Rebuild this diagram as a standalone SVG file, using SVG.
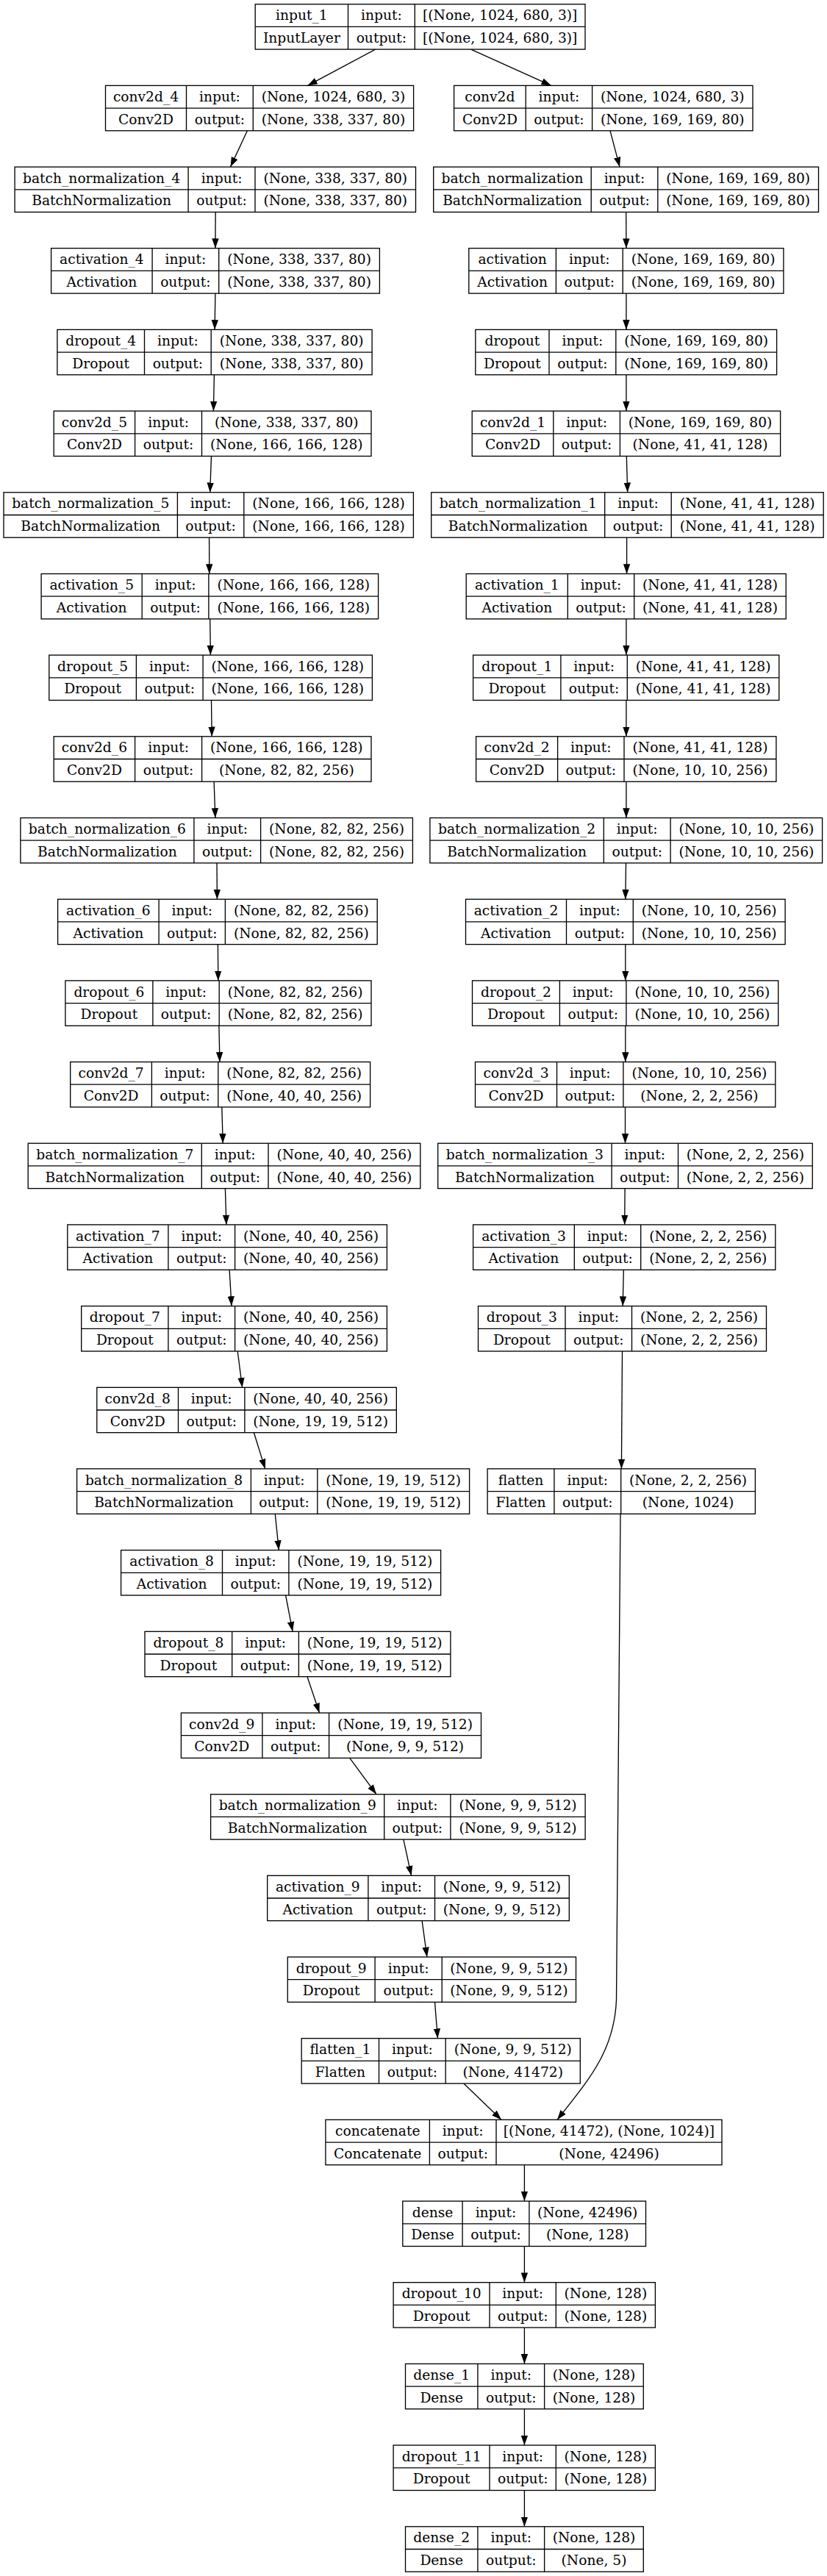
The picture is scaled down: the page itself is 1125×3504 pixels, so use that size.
<svg xmlns="http://www.w3.org/2000/svg" width="1125" height="3504" viewBox="0 0 1125 3504">
<style>
.b{fill:#fff;stroke:#000;stroke-width:1.33}
.l{stroke:#000;stroke-width:1.33;fill:none}
text{font-family:"DejaVu Serif","Liberation Serif",serif;font-size:18.67px;fill:#000;text-anchor:middle}
.e{stroke:#000;stroke-width:1.33;fill:none;marker-end:url(#arr)}
</style>
<defs>
<marker id="arr" markerUnits="userSpaceOnUse" markerWidth="14" markerHeight="10" refX="13.3" refY="5" orient="auto" viewBox="0 0 14 10"><path d="M0,0.3 L13.3,5 L0,9.7 z" fill="#000"/></marker>
</defs>
<rect width="1125" height="3504" fill="#fff"/>
<g id="connectors">
<path class="e" d="M510.8,67.1 L418.5,116.4"/>
<path class="e" d="M640.6,67.1 L749.8,116.4"/>
<path class="e" d="M336.4,177.8 L313.5,227.1"/>
<path class="e" d="M830,177.8 L843,227.1"/>
<path class="e" d="M293.2,288.5 L292.9,337.7"/>
<path class="e" d="M851.7,288.5 L851.9,337.7"/>
<path class="e" d="M292.9,399.1 L292.1,448.4"/>
<path class="e" d="M851.9,399.1 L851.9,448.4"/>
<path class="e" d="M291.4,509.8 L290.4,559.1"/>
<path class="e" d="M851.9,509.8 L851.9,559.1"/>
<path class="e" d="M287.5,620.5 L285.7,669.8"/>
<path class="e" d="M852.3,620.5 L853.7,669.8"/>
<path class="e" d="M284.6,731.2 L284.8,780.5"/>
<path class="e" d="M852.6,731.2 L852.6,780.5"/>
<path class="e" d="M285.7,841.9 L286.4,891.1"/>
<path class="e" d="M851.9,841.9 L851.9,891.1"/>
<path class="e" d="M287.5,952.5 L288.2,1001.8"/>
<path class="e" d="M851.9,952.5 L851.9,1001.8"/>
<path class="e" d="M291.1,1063.2 L292.9,1112.5"/>
<path class="e" d="M851.9,1063.2 L851.9,1112.5"/>
<path class="e" d="M295,1173.9 L295.4,1223.2"/>
<path class="e" d="M851.5,1173.9 L850.8,1223.2"/>
<path class="e" d="M296.4,1284.6 L296.8,1333.9"/>
<path class="e" d="M850.8,1284.6 L850.8,1333.9"/>
<path class="e" d="M297.9,1395.3 L298.9,1444.5"/>
<path class="e" d="M850.8,1395.3 L850.8,1444.5"/>
<path class="e" d="M301.8,1505.9 L303.2,1555.2"/>
<path class="e" d="M850.5,1505.9 L850.5,1555.2"/>
<path class="e" d="M306.4,1616.6 L307.9,1665.9"/>
<path class="e" d="M850.1,1616.6 L849.7,1665.9"/>
<path class="e" d="M312.1,1727.3 L315,1776.6"/>
<path class="e" d="M848.3,1727.3 L847.2,1776.6"/>
<path class="e" d="M323.2,1838 L329.6,1887.3"/>
<path class="e" d="M846.5,1838 L845.4,1997.9"/>
<path class="e" d="M345.4,1948.7 L360.7,1997.9"/>
<path class="e" d="M374.3,2059.3 L379.3,2108.6"/>
<path class="e" d="M388.6,2170 L398.1,2219.3"/>
<path class="e" d="M418,2280.7 L434.5,2330"/>
<path class="e" d="M475.7,2391.4 L512,2440.7"/>
<path class="e" d="M548.9,2502.1 L559.5,2551.3"/>
<path class="e" d="M574.1,2612.7 L580.9,2662"/>
<path class="e" d="M591.5,2723.4 L595.4,2772.7"/>
<path class="e" d="M630.8,2834.1 L682.1,2883.4"/>
<path class="e" d="M844,2059.3 L838.5,2720 C836,2790 800,2830 758,2883.4"/>
<path class="e" d="M713.4,2944.8 L713.4,2994.1"/>
<path class="e" d="M713.4,3055.5 L713.4,3104.7"/>
<path class="e" d="M713.4,3166.1 L713.4,3215.4"/>
<path class="e" d="M713.4,3276.8 L713.4,3326.1"/>
<path class="e" d="M713.4,3387.5 L713.4,3436.8"/>
</g>
<g id="input_1" transform="translate(0,5.7)"><rect class="b" x="347.2" y="0" width="448.8" height="61.4"/><path class="l" d="M473.5,0V61.4M564.3,0V61.4M347.2,30.7H796"/><text x="410.4" y="21.7">input_1</text><text x="410.4" y="52.4">InputLayer</text><text x="518.9" y="21.7">input:</text><text x="518.9" y="52.4">output:</text><text x="680.2" y="21.7">[(None, 1024, 680, 3)]</text><text x="680.2" y="52.4">[(None, 1024, 680, 3)]</text></g>
<g id="conv2d_4" transform="translate(0,116.4)"><rect class="b" x="143.5" y="0" width="419.1" height="61.4"/><path class="l" d="M253.5,0V61.4M344.3,0V61.4M143.5,30.7H562.6"/><text x="198.5" y="21.7">conv2d_4</text><text x="198.5" y="52.4">Conv2D</text><text x="298.9" y="21.7">input:</text><text x="298.9" y="52.4">output:</text><text x="453.5" y="21.7">(None, 1024, 680, 3)</text><text x="453.5" y="52.4">(None, 338, 337, 80)</text></g>
<g id="conv2d" transform="translate(0,116.4)"><rect class="b" x="617.6" y="0" width="406.4" height="61.4"/><path class="l" d="M715.2,0V61.4M805.6,0V61.4M617.6,30.7H1024"/><text x="666.4" y="21.7">conv2d</text><text x="666.4" y="52.4">Conv2D</text><text x="760.4" y="21.7">input:</text><text x="760.4" y="52.4">output:</text><text x="914.8" y="21.7">(None, 1024, 680, 3)</text><text x="914.8" y="52.4">(None, 169, 169, 80)</text></g>
<g id="batch_normalization_4" transform="translate(0,227.1)"><rect class="b" x="20.1" y="0" width="545.4" height="61.4"/><path class="l" d="M256.1,0V61.4M347,0V61.4M20.1,30.7H565.5"/><text x="138.1" y="21.7">batch_normalization_4</text><text x="138.1" y="52.4">BatchNormalization</text><text x="301.6" y="21.7">input:</text><text x="301.6" y="52.4">output:</text><text x="456.3" y="21.7">(None, 338, 337, 80)</text><text x="456.3" y="52.4">(None, 338, 337, 80)</text></g>
<g id="batch_normalization" transform="translate(0,227.1)"><rect class="b" x="589.7" y="0" width="523.8" height="61.4"/><path class="l" d="M804.2,0V61.4M894.8,0V61.4M589.7,30.7H1113.5"/><text x="697" y="21.7">batch_normalization</text><text x="697" y="52.4">BatchNormalization</text><text x="849.5" y="21.7">input:</text><text x="849.5" y="52.4">output:</text><text x="1004.2" y="21.7">(None, 169, 169, 80)</text><text x="1004.2" y="52.4">(None, 169, 169, 80)</text></g>
<g id="activation_4" transform="translate(0,337.7)"><rect class="b" x="69.6" y="0" width="446.8" height="61.4"/><path class="l" d="M207.1,0V61.4M297.7,0V61.4M69.6,30.7H516.4"/><text x="138.4" y="21.7">activation_4</text><text x="138.4" y="52.4">Activation</text><text x="252.4" y="21.7">input:</text><text x="252.4" y="52.4">output:</text><text x="407.1" y="21.7">(None, 338, 337, 80)</text><text x="407.1" y="52.4">(None, 338, 337, 80)</text></g>
<g id="activation" transform="translate(0,337.7)"><rect class="b" x="637.8" y="0" width="428.1" height="61.4"/><path class="l" d="M756.4,0V61.4M847.2,0V61.4M637.8,30.7H1065.9"/><text x="697.1" y="21.7">activation</text><text x="697.1" y="52.4">Activation</text><text x="801.8" y="21.7">input:</text><text x="801.8" y="52.4">output:</text><text x="956.6" y="21.7">(None, 169, 169, 80)</text><text x="956.6" y="52.4">(None, 169, 169, 80)</text></g>
<g id="dropout_4" transform="translate(0,448.4)"><rect class="b" x="77.9" y="0" width="428.2" height="61.4"/><path class="l" d="M196.5,0V61.4M287.2,0V61.4M77.9,30.7H506.1"/><text x="137.2" y="21.7">dropout_4</text><text x="137.2" y="52.4">Dropout</text><text x="241.9" y="21.7">input:</text><text x="241.9" y="52.4">output:</text><text x="396.7" y="21.7">(None, 338, 337, 80)</text><text x="396.7" y="52.4">(None, 338, 337, 80)</text></g>
<g id="dropout" transform="translate(0,448.4)"><rect class="b" x="646.8" y="0" width="409.8" height="61.4"/><path class="l" d="M747,0V61.4M837.8,0V61.4M646.8,30.7H1056.6"/><text x="696.9" y="21.7">dropout</text><text x="696.9" y="52.4">Dropout</text><text x="792.4" y="21.7">input:</text><text x="792.4" y="52.4">output:</text><text x="947.2" y="21.7">(None, 169, 169, 80)</text><text x="947.2" y="52.4">(None, 169, 169, 80)</text></g>
<g id="conv2d_5" transform="translate(0,559.1)"><rect class="b" x="73.2" y="0" width="431.8" height="61.4"/><path class="l" d="M183.6,0V61.4M274.5,0V61.4M73.2,30.7H505"/><text x="128.4" y="21.7">conv2d_5</text><text x="128.4" y="52.4">Conv2D</text><text x="229.1" y="21.7">input:</text><text x="229.1" y="52.4">output:</text><text x="389.8" y="21.7">(None, 338, 337, 80)</text><text x="389.8" y="52.4">(None, 166, 166, 128)</text></g>
<g id="conv2d_1" transform="translate(0,559.1)"><rect class="b" x="642.2" y="0" width="419.4" height="61.4"/><path class="l" d="M752.8,0V61.4M843.4,0V61.4M642.2,30.7H1061.6"/><text x="697.5" y="21.7">conv2d_1</text><text x="697.5" y="52.4">Conv2D</text><text x="798.1" y="21.7">input:</text><text x="798.1" y="52.4">output:</text><text x="952.5" y="21.7">(None, 169, 169, 80)</text><text x="952.5" y="52.4">(None, 41, 41, 128)</text></g>
<g id="batch_normalization_5" transform="translate(0,669.8)"><rect class="b" x="5" y="0" width="557.4" height="61.4"/><path class="l" d="M241.4,0V61.4M331.8,0V61.4M5,30.7H562.4"/><text x="123.2" y="21.7">batch_normalization_5</text><text x="123.2" y="52.4">BatchNormalization</text><text x="286.6" y="21.7">input:</text><text x="286.6" y="52.4">output:</text><text x="447.1" y="21.7">(None, 166, 166, 128)</text><text x="447.1" y="52.4">(None, 166, 166, 128)</text></g>
<g id="batch_normalization_1" transform="translate(0,669.8)"><rect class="b" x="586.7" y="0" width="533.5" height="61.4"/><path class="l" d="M822.7,0V61.4M913.2,0V61.4M586.7,30.7H1120.2"/><text x="704.7" y="21.7">batch_normalization_1</text><text x="704.7" y="52.4">BatchNormalization</text><text x="868" y="21.7">input:</text><text x="868" y="52.4">output:</text><text x="1016.7" y="21.7">(None, 41, 41, 128)</text><text x="1016.7" y="52.4">(None, 41, 41, 128)</text></g>
<g id="activation_5" transform="translate(0,780.5)"><rect class="b" x="56.1" y="0" width="458.5" height="61.4"/><path class="l" d="M193.2,0V61.4M283.9,0V61.4M56.1,30.7H514.6"/><text x="124.7" y="21.7">activation_5</text><text x="124.7" y="52.4">Activation</text><text x="238.6" y="21.7">input:</text><text x="238.6" y="52.4">output:</text><text x="399.3" y="21.7">(None, 166, 166, 128)</text><text x="399.3" y="52.4">(None, 166, 166, 128)</text></g>
<g id="activation_1" transform="translate(0,780.5)"><rect class="b" x="634.2" y="0" width="435" height="61.4"/><path class="l" d="M772.3,0V61.4M862.7,0V61.4M634.2,30.7H1069.2"/><text x="703.3" y="21.7">activation_1</text><text x="703.3" y="52.4">Activation</text><text x="817.5" y="21.7">input:</text><text x="817.5" y="52.4">output:</text><text x="966" y="21.7">(None, 41, 41, 128)</text><text x="966" y="52.4">(None, 41, 41, 128)</text></g>
<g id="dropout_5" transform="translate(0,891.1)"><rect class="b" x="66.8" y="0" width="439.6" height="61.4"/><path class="l" d="M185.4,0V61.4M276.1,0V61.4M66.8,30.7H506.4"/><text x="126.1" y="21.7">dropout_5</text><text x="126.1" y="52.4">Dropout</text><text x="230.8" y="21.7">input:</text><text x="230.8" y="52.4">output:</text><text x="391.3" y="21.7">(None, 166, 166, 128)</text><text x="391.3" y="52.4">(None, 166, 166, 128)</text></g>
<g id="dropout_1" transform="translate(0,891.1)"><rect class="b" x="643.6" y="0" width="416.2" height="61.4"/><path class="l" d="M762.9,0V61.4M853.3,0V61.4M643.6,30.7H1059.8"/><text x="703.3" y="21.7">dropout_1</text><text x="703.3" y="52.4">Dropout</text><text x="808.1" y="21.7">input:</text><text x="808.1" y="52.4">output:</text><text x="956.6" y="21.7">(None, 41, 41, 128)</text><text x="956.6" y="52.4">(None, 41, 41, 128)</text></g>
<g id="conv2d_6" transform="translate(0,1001.8)"><rect class="b" x="73.2" y="0" width="431.8" height="61.4"/><path class="l" d="M183.6,0V61.4M274.6,0V61.4M73.2,30.7H505"/><text x="128.4" y="21.7">conv2d_6</text><text x="128.4" y="52.4">Conv2D</text><text x="229.1" y="21.7">input:</text><text x="229.1" y="52.4">output:</text><text x="389.8" y="21.7">(None, 166, 166, 128)</text><text x="389.8" y="52.4">(None, 82, 82, 256)</text></g>
<g id="conv2d_2" transform="translate(0,1001.8)"><rect class="b" x="647.6" y="0" width="408.3" height="61.4"/><path class="l" d="M758.6,0V61.4M849,0V61.4M647.6,30.7H1055.9"/><text x="703.1" y="21.7">conv2d_2</text><text x="703.1" y="52.4">Conv2D</text><text x="803.8" y="21.7">input:</text><text x="803.8" y="52.4">output:</text><text x="952.5" y="21.7">(None, 41, 41, 128)</text><text x="952.5" y="52.4">(None, 10, 10, 256)</text></g>
<g id="batch_normalization_6" transform="translate(0,1112.5)"><rect class="b" x="27.9" y="0" width="533.5" height="61.4"/><path class="l" d="M263.9,0V61.4M354.6,0V61.4M27.9,30.7H561.4"/><text x="145.9" y="21.7">batch_normalization_6</text><text x="145.9" y="52.4">BatchNormalization</text><text x="309.3" y="21.7">input:</text><text x="309.3" y="52.4">output:</text><text x="458" y="21.7">(None, 82, 82, 256)</text><text x="458" y="52.4">(None, 82, 82, 256)</text></g>
<g id="batch_normalization_2" transform="translate(0,1112.5)"><rect class="b" x="584.9" y="0" width="533.7" height="61.4"/><path class="l" d="M821.3,0V61.4M912.1,0V61.4M584.9,30.7H1118.6"/><text x="703.1" y="21.7">batch_normalization_2</text><text x="703.1" y="52.4">BatchNormalization</text><text x="866.7" y="21.7">input:</text><text x="866.7" y="52.4">output:</text><text x="1015.4" y="21.7">(None, 10, 10, 256)</text><text x="1015.4" y="52.4">(None, 10, 10, 256)</text></g>
<g id="activation_6" transform="translate(0,1223.2)"><rect class="b" x="78.6" y="0" width="434.6" height="61.4"/><path class="l" d="M216.1,0V61.4M306.4,0V61.4M78.6,30.7H513.2"/><text x="147.4" y="21.7">activation_6</text><text x="147.4" y="52.4">Activation</text><text x="261.3" y="21.7">input:</text><text x="261.3" y="52.4">output:</text><text x="409.8" y="21.7">(None, 82, 82, 256)</text><text x="409.8" y="52.4">(None, 82, 82, 256)</text></g>
<g id="activation_2" transform="translate(0,1223.2)"><rect class="b" x="633.5" y="0" width="434.6" height="61.4"/><path class="l" d="M770.5,0V61.4M861.3,0V61.4M633.5,30.7H1068.1"/><text x="702" y="21.7">activation_2</text><text x="702" y="52.4">Activation</text><text x="815.9" y="21.7">input:</text><text x="815.9" y="52.4">output:</text><text x="964.7" y="21.7">(None, 10, 10, 256)</text><text x="964.7" y="52.4">(None, 10, 10, 256)</text></g>
<g id="dropout_6" transform="translate(0,1333.9)"><rect class="b" x="88.9" y="0" width="416.1" height="61.4"/><path class="l" d="M207.9,0V61.4M298.2,0V61.4M88.9,30.7H505"/><text x="148.4" y="21.7">dropout_6</text><text x="148.4" y="52.4">Dropout</text><text x="253.1" y="21.7">input:</text><text x="253.1" y="52.4">output:</text><text x="401.6" y="21.7">(None, 82, 82, 256)</text><text x="401.6" y="52.4">(None, 82, 82, 256)</text></g>
<g id="dropout_2" transform="translate(0,1333.9)"><rect class="b" x="642.5" y="0" width="416.2" height="61.4"/><path class="l" d="M761.4,0V61.4M851.9,0V61.4M642.5,30.7H1058.7"/><text x="702" y="21.7">dropout_2</text><text x="702" y="52.4">Dropout</text><text x="806.7" y="21.7">input:</text><text x="806.7" y="52.4">output:</text><text x="955.3" y="21.7">(None, 10, 10, 256)</text><text x="955.3" y="52.4">(None, 10, 10, 256)</text></g>
<g id="conv2d_7" transform="translate(0,1444.5)"><rect class="b" x="95.7" y="0" width="407.9" height="61.4"/><path class="l" d="M206.4,0V61.4M296.8,0V61.4M95.7,30.7H503.6"/><text x="151.1" y="21.7">conv2d_7</text><text x="151.1" y="52.4">Conv2D</text><text x="251.6" y="21.7">input:</text><text x="251.6" y="52.4">output:</text><text x="400.2" y="21.7">(None, 82, 82, 256)</text><text x="400.2" y="52.4">(None, 40, 40, 256)</text></g>
<g id="conv2d_3" transform="translate(0,1444.5)"><rect class="b" x="646.5" y="0" width="408.3" height="61.4"/><path class="l" d="M757.5,0V61.4M847.9,0V61.4M646.5,30.7H1054.8"/><text x="702" y="21.7">conv2d_3</text><text x="702" y="52.4">Conv2D</text><text x="802.7" y="21.7">input:</text><text x="802.7" y="52.4">output:</text><text x="951.4" y="21.7">(None, 10, 10, 256)</text><text x="951.4" y="52.4">(None, 2, 2, 256)</text></g>
<g id="batch_normalization_7" transform="translate(0,1555.2)"><rect class="b" x="38.2" y="0" width="533.6" height="61.4"/><path class="l" d="M274.3,0V61.4M365,0V61.4M38.2,30.7H571.8"/><text x="156.3" y="21.7">batch_normalization_7</text><text x="156.3" y="52.4">BatchNormalization</text><text x="319.7" y="21.7">input:</text><text x="319.7" y="52.4">output:</text><text x="468.4" y="21.7">(None, 40, 40, 256)</text><text x="468.4" y="52.4">(None, 40, 40, 256)</text></g>
<g id="batch_normalization_3" transform="translate(0,1555.2)"><rect class="b" x="595.7" y="0" width="509.5" height="61.4"/><path class="l" d="M832.1,0V61.4M922.5,0V61.4M595.7,30.7H1105.2"/><text x="713.9" y="21.7">batch_normalization_3</text><text x="713.9" y="52.4">BatchNormalization</text><text x="877.3" y="21.7">input:</text><text x="877.3" y="52.4">output:</text><text x="1013.9" y="21.7">(None, 2, 2, 256)</text><text x="1013.9" y="52.4">(None, 2, 2, 256)</text></g>
<g id="activation_7" transform="translate(0,1665.9)"><rect class="b" x="91.8" y="0" width="434.6" height="61.4"/><path class="l" d="M228.9,0V61.4M319.6,0V61.4M91.8,30.7H526.4"/><text x="160.4" y="21.7">activation_7</text><text x="160.4" y="52.4">Activation</text><text x="274.3" y="21.7">input:</text><text x="274.3" y="52.4">output:</text><text x="423" y="21.7">(None, 40, 40, 256)</text><text x="423" y="52.4">(None, 40, 40, 256)</text></g>
<g id="activation_3" transform="translate(0,1665.9)"><rect class="b" x="643.6" y="0" width="411.2" height="61.4"/><path class="l" d="M781.3,0V61.4M871.7,0V61.4M643.6,30.7H1054.8"/><text x="712.5" y="21.7">activation_3</text><text x="712.5" y="52.4">Activation</text><text x="826.5" y="21.7">input:</text><text x="826.5" y="52.4">output:</text><text x="963.3" y="21.7">(None, 2, 2, 256)</text><text x="963.3" y="52.4">(None, 2, 2, 256)</text></g>
<g id="dropout_7" transform="translate(0,1776.6)"><rect class="b" x="110.7" y="0" width="415.7" height="61.4"/><path class="l" d="M228.9,0V61.4M319.6,0V61.4M110.7,30.7H526.4"/><text x="169.8" y="21.7">dropout_7</text><text x="169.8" y="52.4">Dropout</text><text x="274.3" y="21.7">input:</text><text x="274.3" y="52.4">output:</text><text x="423" y="21.7">(None, 40, 40, 256)</text><text x="423" y="52.4">(None, 40, 40, 256)</text></g>
<g id="dropout_3" transform="translate(0,1776.6)"><rect class="b" x="650.5" y="0" width="392" height="61.4"/><path class="l" d="M769,0V61.4M859.5,0V61.4M650.5,30.7H1042.5"/><text x="709.8" y="21.7">dropout_3</text><text x="709.8" y="52.4">Dropout</text><text x="814.3" y="21.7">input:</text><text x="814.3" y="52.4">output:</text><text x="951" y="21.7">(None, 2, 2, 256)</text><text x="951" y="52.4">(None, 2, 2, 256)</text></g>
<g id="conv2d_8" transform="translate(0,1887.3)"><rect class="b" x="131.8" y="0" width="407.5" height="61.4"/><path class="l" d="M242.5,0V61.4M332.9,0V61.4M131.8,30.7H539.3"/><text x="187.2" y="21.7">conv2d_8</text><text x="187.2" y="52.4">Conv2D</text><text x="287.7" y="21.7">input:</text><text x="287.7" y="52.4">output:</text><text x="436.1" y="21.7">(None, 40, 40, 256)</text><text x="436.1" y="52.4">(None, 19, 19, 512)</text></g>
<g id="batch_normalization_8" transform="translate(0,1997.9)"><rect class="b" x="104.6" y="0" width="534" height="61.4"/><path class="l" d="M341.4,0V61.4M431.8,0V61.4M104.6,30.7H638.6"/><text x="223" y="21.7">batch_normalization_8</text><text x="223" y="52.4">BatchNormalization</text><text x="386.6" y="21.7">input:</text><text x="386.6" y="52.4">output:</text><text x="535.2" y="21.7">(None, 19, 19, 512)</text><text x="535.2" y="52.4">(None, 19, 19, 512)</text></g>
<g id="flatten" transform="translate(0,1997.9)"><rect class="b" x="663.1" y="0" width="364.3" height="61.4"/><path class="l" d="M753.9,0V61.4M844.7,0V61.4M663.1,30.7H1027.4"/><text x="708.5" y="21.7">flatten</text><text x="708.5" y="52.4">Flatten</text><text x="799.3" y="21.7">input:</text><text x="799.3" y="52.4">output:</text><text x="936.1" y="21.7">(None, 2, 2, 256)</text><text x="936.1" y="52.4">(None, 1024)</text></g>
<g id="activation_8" transform="translate(0,2108.6)"><rect class="b" x="164.6" y="0" width="435" height="61.4"/><path class="l" d="M302.5,0V61.4M392.9,0V61.4M164.6,30.7H599.6"/><text x="233.6" y="21.7">activation_8</text><text x="233.6" y="52.4">Activation</text><text x="347.7" y="21.7">input:</text><text x="347.7" y="52.4">output:</text><text x="496.3" y="21.7">(None, 19, 19, 512)</text><text x="496.3" y="52.4">(None, 19, 19, 512)</text></g>
<g id="dropout_8" transform="translate(0,2219.3)"><rect class="b" x="197" y="0" width="415.9" height="61.4"/><path class="l" d="M315.7,0V61.4M406.4,0V61.4M197,30.7H612.9"/><text x="256.4" y="21.7">dropout_8</text><text x="256.4" y="52.4">Dropout</text><text x="361.1" y="21.7">input:</text><text x="361.1" y="52.4">output:</text><text x="509.7" y="21.7">(None, 19, 19, 512)</text><text x="509.7" y="52.4">(None, 19, 19, 512)</text></g>
<g id="conv2d_9" transform="translate(0,2330)"><rect class="b" x="246.4" y="0" width="408.1" height="61.4"/><path class="l" d="M356.9,0V61.4M447.6,0V61.4M246.4,30.7H654.5"/><text x="301.7" y="21.7">conv2d_9</text><text x="301.7" y="52.4">Conv2D</text><text x="402.3" y="21.7">input:</text><text x="402.3" y="52.4">output:</text><text x="551.1" y="21.7">(None, 19, 19, 512)</text><text x="551.1" y="52.4">(None, 9, 9, 512)</text></g>
<g id="batch_normalization_9" transform="translate(0,2440.7)"><rect class="b" x="286.6" y="0" width="509.5" height="61.4"/><path class="l" d="M522.7,0V61.4M612.9,0V61.4M286.6,30.7H796.1"/><text x="404.7" y="21.7">batch_normalization_9</text><text x="404.7" y="52.4">BatchNormalization</text><text x="567.8" y="21.7">input:</text><text x="567.8" y="52.4">output:</text><text x="704.5" y="21.7">(None, 9, 9, 512)</text><text x="704.5" y="52.4">(None, 9, 9, 512)</text></g>
<g id="activation_9" transform="translate(0,2551.3)"><rect class="b" x="363.7" y="0" width="410.6" height="61.4"/><path class="l" d="M500.9,0V61.4M591.5,0V61.4M363.7,30.7H774.3"/><text x="432.3" y="21.7">activation_9</text><text x="432.3" y="52.4">Activation</text><text x="546.2" y="21.7">input:</text><text x="546.2" y="52.4">output:</text><text x="682.9" y="21.7">(None, 9, 9, 512)</text><text x="682.9" y="52.4">(None, 9, 9, 512)</text></g>
<g id="dropout_9" transform="translate(0,2662)"><rect class="b" x="391.3" y="0" width="392.2" height="61.4"/><path class="l" d="M510.1,0V61.4M601.2,0V61.4M391.3,30.7H783.5"/><text x="450.7" y="21.7">dropout_9</text><text x="450.7" y="52.4">Dropout</text><text x="555.7" y="21.7">input:</text><text x="555.7" y="52.4">output:</text><text x="692.4" y="21.7">(None, 9, 9, 512)</text><text x="692.4" y="52.4">(None, 9, 9, 512)</text></g>
<g id="flatten_1" transform="translate(0,2772.7)"><rect class="b" x="410.2" y="0" width="379.1" height="61.4"/><path class="l" d="M515.5,0V61.4M606.2,0V61.4M410.2,30.7H789.3"/><text x="462.9" y="21.7">flatten_1</text><text x="462.9" y="52.4">Flatten</text><text x="560.9" y="21.7">input:</text><text x="560.9" y="52.4">output:</text><text x="697.8" y="21.7">(None, 9, 9, 512)</text><text x="697.8" y="52.4">(None, 41472)</text></g>
<g id="concatenate" transform="translate(0,2883.4)"><rect class="b" x="442.9" y="0" width="539.1" height="61.4"/><path class="l" d="M584.4,0V61.4M675,0V61.4M442.9,30.7H982"/><text x="513.7" y="21.7">concatenate</text><text x="513.7" y="52.4">Concatenate</text><text x="629.7" y="21.7">input:</text><text x="629.7" y="52.4">output:</text><text x="828.5" y="21.7">[(None, 41472), (None, 1024)]</text><text x="828.5" y="52.4">(None, 42496)</text></g>
<g id="dense" transform="translate(0,2994.1)"><rect class="b" x="547.8" y="0" width="330.7" height="61.4"/><path class="l" d="M629.1,0V61.4M719.9,0V61.4M547.8,30.7H878.5"/><text x="588.5" y="21.7">dense</text><text x="588.5" y="52.4">Dense</text><text x="674.5" y="21.7">input:</text><text x="674.5" y="52.4">output:</text><text x="799.2" y="21.7">(None, 42496)</text><text x="799.2" y="52.4">(None, 128)</text></g>
<g id="dropout_10" transform="translate(0,3104.7)"><rect class="b" x="535.1" y="0" width="356.3" height="61.4"/><path class="l" d="M666,0V61.4M756.3,0V61.4M535.1,30.7H891.4"/><text x="600.6" y="21.7">dropout_10</text><text x="600.6" y="52.4">Dropout</text><text x="711.2" y="21.7">input:</text><text x="711.2" y="52.4">output:</text><text x="823.9" y="21.7">(None, 128)</text><text x="823.9" y="52.4">(None, 128)</text></g>
<g id="dense_1" transform="translate(0,3215.4)"><rect class="b" x="551.5" y="0" width="323.8" height="61.4"/><path class="l" d="M649.9,0V61.4M740.6,0V61.4M551.5,30.7H875.3"/><text x="600.7" y="21.7">dense_1</text><text x="600.7" y="52.4">Dense</text><text x="695.3" y="21.7">input:</text><text x="695.3" y="52.4">output:</text><text x="808" y="21.7">(None, 128)</text><text x="808" y="52.4">(None, 128)</text></g>
<g id="dropout_11" transform="translate(0,3326.1)"><rect class="b" x="535.1" y="0" width="356.3" height="61.4"/><path class="l" d="M666,0V61.4M756.3,0V61.4M535.1,30.7H891.4"/><text x="600.6" y="21.7">dropout_11</text><text x="600.6" y="52.4">Dropout</text><text x="711.2" y="21.7">input:</text><text x="711.2" y="52.4">output:</text><text x="823.9" y="21.7">(None, 128)</text><text x="823.9" y="52.4">(None, 128)</text></g>
<g id="dense_2" transform="translate(0,3436.8)"><rect class="b" x="551.5" y="0" width="323.8" height="61.4"/><path class="l" d="M649.9,0V61.4M740.6,0V61.4M551.5,30.7H875.3"/><text x="600.7" y="21.7">dense_2</text><text x="600.7" y="52.4">Dense</text><text x="695.3" y="21.7">input:</text><text x="695.3" y="52.4">output:</text><text x="808" y="21.7">(None, 128)</text><text x="808" y="52.4">(None, 5)</text></g>
</svg>
